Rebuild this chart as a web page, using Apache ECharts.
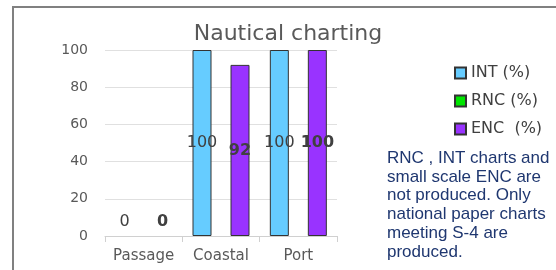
<!DOCTYPE html>
<html>
<head>
<meta charset="utf-8">
<script src="https://cdn.jsdelivr.net/npm/echarts@6/dist/echarts.min.js"></script>
<style>
  html, body { margin: 0; padding: 0; background: #fff; }
  #chart { width: 556px; height: 270px; }
</style>
</head>
<body>
<div id="chart"></div>
<script>
// chart data
const categories = ['Passage', 'Coastal', 'Port']
const intValues = [0, 100, 100]
const rncValues = [null, null, null]
const encValues = [0, 92, 100]
const yTicks = [0, 20, 40, 60, 80, 100]
const noteText = 'RNC , INT charts and\nsmall scale ENC are\nnot produced. Only\nnational paper charts\nmeeting S-4 are\nproduced.'

const chart = echarts.init(document.getElementById('chart'))

const FONT = 'DejaVu Sans'

// zero values: label sits above the axis, no outline drawn
function withLabels (values) {
  return values.map(v => v === 0
    ? { value: v, label: { position: 'top', distance: 6 }, itemStyle: { borderWidth: 0 } }
    : v)
}

const labelBase = {
  show: true,
  position: 'inside',
  fontFamily: FONT,
  fontSize: 16,
  color: '#404040'
}

const option = {
  animation: false,
  textStyle: { fontFamily: FONT },
  title: {
    text: 'Nautical charting',
    left: 283,
    textAlign: 'center',
    top: 18,
    textStyle: { fontFamily: FONT, fontSize: 22, fontWeight: 'normal', color: '#595959' }
  },
  legend: {
    orient: 'vertical',
    left: 449,
    top: 59,
    itemWidth: 11,
    itemHeight: 11,
    itemGap: 10,
    icon: 'rect',
    textStyle: { fontFamily: FONT, fontSize: 16, color: '#404040', lineHeight: 18 },
    data: ['INT (%)', 'RNC (%)', 'ENC  (%)']
  },
  grid: { left: 105, right: 219, top: 50, bottom: 34 },
  xAxis: {
    type: 'category',
    data: categories,
    axisLine: { lineStyle: { color: '#d0d0d0' } },
    axisTick: { show: true, length: 6, lineStyle: { color: '#d0d0d0' } },
    axisLabel: { interval: 0, hideOverlap: false, fontFamily: FONT, fontSize: 15, color: '#595959', margin: 13 }
  },
  yAxis: {
    type: 'value',
    min: yTicks[0],
    max: yTicks[yTicks.length - 1],
    interval: yTicks[1] - yTicks[0],
    axisLine: { show: false },
    axisTick: { show: false },
    axisLabel: { fontFamily: FONT, fontSize: 14, color: '#595959', margin: 17 },
    splitLine: { lineStyle: { color: '#e0e0e0' } }
  },
  series: [
    {
      name: 'INT (%)',
      type: 'bar',
      barWidth: 19,
      barGap: '0%',
      data: withLabels(intValues),
      itemStyle: { color: '#66ccff', borderColor: '#333', borderWidth: 1 },
      label: labelBase
    },
    {
      name: 'RNC (%)',
      type: 'bar',
      barWidth: 19,
      barGap: '0%',
      data: rncValues,
      itemStyle: { color: '#00e600', borderColor: '#333', borderWidth: 1 }
    },
    {
      name: 'ENC  (%)',
      type: 'bar',
      barWidth: 19,
      barGap: '0%',
      data: withLabels(encValues),
      itemStyle: { color: '#9933ff', borderColor: '#333', borderWidth: 1 },
      label: Object.assign({}, labelBase, { fontWeight: 'bold' })
    }
  ],
  graphic: [
    // outer frame, cut off at right and bottom
    {
      type: 'rect',
      shape: { x: 13, y: 7, width: 600, height: 300 },
      style: { fill: 'none', stroke: '#808080', lineWidth: 2 },
      silent: true
    },
    {
      type: 'text',
      left: 387,
      top: 149,
      style: {
        text: noteText,
        font: '17px "Liberation Sans", Arial, sans-serif',
        fill: '#1f3770',
        lineHeight: 18.7
      }
    }
  ]
}

chart.setOption(option)
</script>
</body>
</html>
